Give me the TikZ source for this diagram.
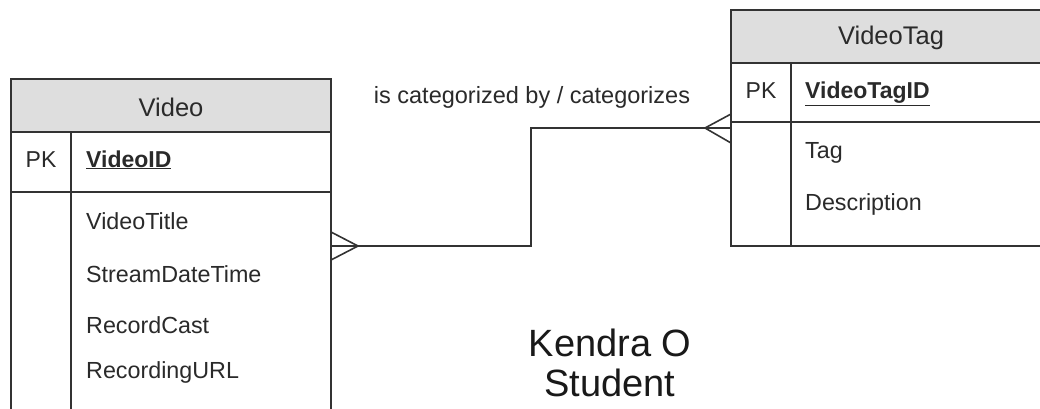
\documentclass[tikz,border=0pt]{standalone}
\usepackage{fontspec}
\setmainfont{Liberation Sans}
\definecolor{linecol}{HTML}{333333}
\definecolor{headfill}{HTML}{DEDEDE}
\definecolor{txtcol}{HTML}{2A2A2A}
\begin{document}
\begin{tikzpicture}[x=1pt,y=-1pt,
  line/.style={draw=linecol, line width=1.6pt},
  tablebox/.style={draw=linecol, line width=1.6pt, fill=white, anchor=north west, inner sep=0pt, outer sep=0pt},
  headbox/.style={draw=linecol, line width=1.6pt, fill=headfill, anchor=north west, inner sep=0pt, outer sep=0pt, minimum height=53pt},
  headtxt/.style={anchor=base, inner sep=0pt, text=txtcol, font=\fontsize{25.5}{29}\selectfont},
  fieldtxt/.style={anchor=base west, inner sep=0pt, text=txtcol, font=\fontsize{23.3}{27}\selectfont},
  keytxt/.style={anchor=base, inner sep=0pt, text=txtcol, font=\fontsize{23}{27}\selectfont},
  pktxt/.style={anchor=base west, inner sep=0pt, text=txtcol, font=\bfseries\fontsize{23}{27}\selectfont},
  reltxt/.style={anchor=base, inner sep=0pt, text=txtcol, font=\fontsize{23.5}{27}\selectfont},
  bigtxt/.style={anchor=base, inner sep=0pt, text=black!90, font=\fontsize{38}{41}\selectfont}]
\useasboundingbox (0,0) rectangle (1040,409);
\clip (0,0) rectangle (1040,409);
\fill[white] (0,0) rectangle (1040,409);

% ---------- Video table ----------
\node[tablebox, minimum width=320pt, minimum height=345pt] (video) at (11,79) {};
\node[headbox, minimum width=320pt] (videohead) at (11,79) {};
\node[headtxt] (videotitle) at (171,117) {Video};
\draw[line] (11,192) -- (331,192);
\draw[line] (71,132) -- (71,420);
\node[keytxt] (videopk) at (41,167) {PK};
\node[pktxt] (videoid) at (86,167) {\underline{VideoID}};
\node[fieldtxt] (f1) at (86,229) {VideoTitle};
\node[fieldtxt] (f2) at (86,282) {StreamDateTime};
\node[fieldtxt] (f3) at (86,333) {RecordCast};
\node[fieldtxt] (f4) at (86,378) {RecordingURL};

% ---------- VideoTag table ----------
\node[tablebox, minimum width=320pt, minimum height=236pt] (tag) at (731,10) {};
\node[headbox, minimum width=320pt] (taghead) at (731,10) {};
\node[headtxt] (tagtitle) at (891,45) {VideoTag};
\draw[line] (731,122) -- (1051,122);
\draw[line] (791,63) -- (791,246);
\node[keytxt] (tagpk) at (761,99) {PK};
\node[pktxt] (tagid) at (805,99) {\underline{VideoTagID}};
\node[fieldtxt] (g1) at (805,158) {Tag};
\node[fieldtxt] (g2) at (805,210) {Description};

% ---------- relationship ----------
\coordinate (vmany) at (331,246);
\coordinate (vfoot) at (358,246);
\coordinate (tmany) at (731,128);
\coordinate (tfoot) at (705,128);
\coordinate (bend) at (531,0);
\draw[line] (vfoot) -- (bend |- vfoot) -- (bend |- tfoot) -- (tfoot);
\draw[line] (vmany) -- (vfoot);
\draw[line] ([yshift=-14pt]vmany) -- (vfoot) -- ([yshift=14pt]vmany);
\draw[line] (tmany) -- (tfoot);
\draw[line] ([yshift=-15pt]tmany) -- (tfoot) -- ([yshift=14pt]tmany);
\node[reltxt] (rel) at (532,103) {is categorized by / categorizes};

% ---------- author ----------
\node[bigtxt] (author) at (610,356) {Kendra O};
\node[bigtxt] (role) at (610,396) {Student};
\end{tikzpicture}
\end{document}
